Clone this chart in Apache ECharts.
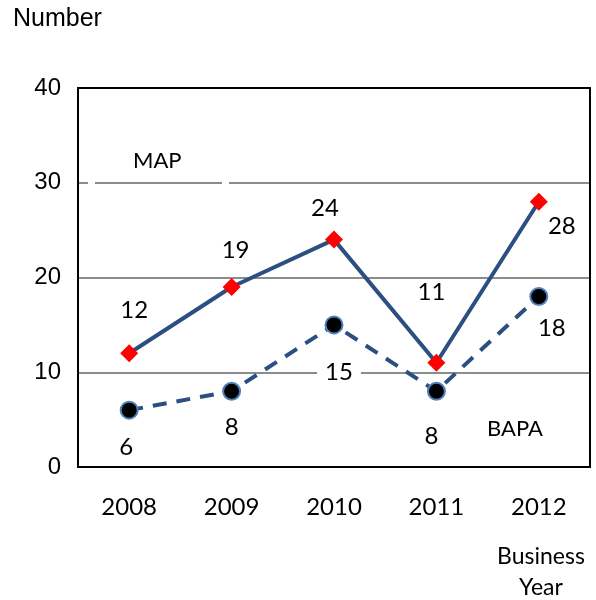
<!DOCTYPE html>
<html>
  <head>
    <meta charset="utf-8" />
    <title>ECharts</title>
    <script src="https://cdn.jsdelivr.net/npm/echarts@6/dist/echarts.min.js"></script>
  </head>
  <body style="margin: 0">
    <div id="main" style="width: 596px; height: 600px"></div>
    <script type="text/javascript">
      var years = ["2008", "2009", "2010", "2011", "2012"];
      var mapValues = [12, 19, 24, 11, 28];
      var bapaValues = [6, 8, 15, 8, 18];
      var yTicks = [0, 10, 20, 30, 40];

      // label offsets (px) relative to the marker centre
      var mapOffsets = [[5, -43], [4, -37], [-9, -31], [-5, -71], [23, 25]];
      var bapaOffsets = [[-3, 37], [0, 36], [5, 47], [-5, 45], [13, 32]];

      var myChart = echarts.init(document.getElementById("main"));

      var labelFont = "Lato";

      function withLabels(values, offsets, bg) {
        return values.map(function (v, i) {
          var item = {
            value: v,
            label: { offset: offsets[i] },
          };
          if (bg && bg[i]) {
            item.label.backgroundColor = "#fff";
            item.label.padding = [0, 8];
          }
          return item;
        });
      }

      var option = {
        animation: false,
        grid: { left: 78, right: 6, top: 88, bottom: 133 },
        xAxis: {
          type: "category",
          data: years,
          boundaryGap: true,
          axisLine: { show: true, lineStyle: { color: "#000", width: 2 } },
          axisTick: { show: false },
          axisLabel: {
            margin: 28,
            fontFamily: labelFont,
            fontSize: 24,
            color: "#000",
          },
        },
        yAxis: {
          type: "value",
          min: yTicks[0],
          max: yTicks[yTicks.length - 1],
          interval: 10,
          axisLine: { show: true, lineStyle: { color: "#000", width: 2 } },
          axisTick: { show: false },
          axisLabel: {
            margin: 17,
            fontFamily: "Liberation Sans",
            fontSize: 24,
            color: "#000",
          },
          splitLine: { lineStyle: { color: "#8c8c8c", width: 2 } },
        },
        series: [
          {
            name: "MAP",
            type: "line",
            data: withLabels(mapValues, mapOffsets),
            symbol: "diamond",
            symbolSize: 18,
            itemStyle: { color: "#ff0000" },
            lineStyle: { color: "#2b4f81", width: 4 },
            z: 3,
            label: {
              show: true,
              position: "inside",
              fontFamily: labelFont,
              fontSize: 24,
              color: "#000",
            },
          },
          {
            name: "BAPA",
            type: "line",
            data: withLabels(bapaValues, bapaOffsets, [0, 0, 1, 0, 0]),
            symbol: "circle",
            symbolSize: 17,
            itemStyle: { color: "#000", borderColor: "#4f81bd", borderWidth: 2 },
            lineStyle: { color: "#2b4f81", width: 4, type: [14, 10] },
            z: 2,
            label: {
              show: true,
              position: "inside",
              fontFamily: labelFont,
              fontSize: 24,
              color: "#000",
            },
          },
        ],
        graphic: [
          // right and top frame
          {
            type: "rect",
            shape: { x: 78, y: 88, width: 512, height: 379 },
            style: { fill: "none", stroke: "#000", lineWidth: 2 },
            z: 1,
          },
          // gaps in the 30 gridline
          { type: "rect", shape: { x: 88, y: 180, width: 7, height: 6 }, style: { fill: "#fff" }, z: 1 },
          { type: "rect", shape: { x: 222, y: 180, width: 7, height: 6 }, style: { fill: "#fff" }, z: 1 },
          {
            type: "text",
            left: 13,
            top: 7,
            style: { text: "Number", font: "25px 'Liberation Sans'", fill: "#000" },
          },
          {
            type: "text",
            left: 133,
            top: 150,
            style: { text: "MAP", font: "22px Lato", fill: "#000" },
          },
          {
            type: "text",
            left: 487,
            top: 418,
            style: { text: "BAPA", font: "22px Lato", fill: "#000" },
          },
          {
            type: "text",
            x: 541,
            y: 541,
            style: {
              text: "Business\nYear",
              font: "23px Lato",
              lineHeight: 31,
              align: "center",
              fill: "#000",
            },
          },
        ],
      };
      myChart.setOption(option);
    </script>
  </body>
</html>
